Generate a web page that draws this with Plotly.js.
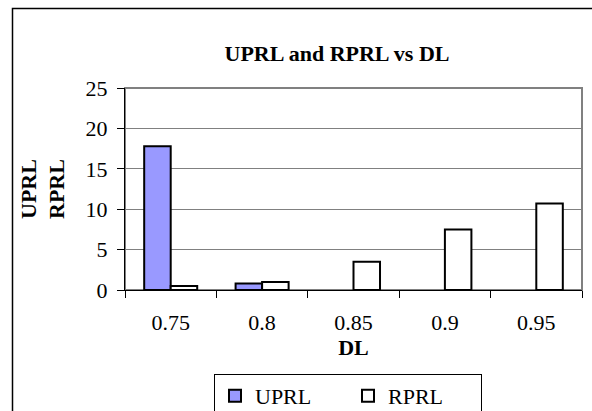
<!DOCTYPE html>
<html>
<head>
<meta charset="utf-8">
<script src="https://cdn.plot.ly/plotly-3.0.1.min.js"></script>
<style>html,body{margin:0;padding:0;background:#fff;overflow:hidden;width:592px;height:411px;}#chart{width:592px;height:440px;}</style>
</head>
<body>
<div id="chart"></div>
<script>
const categories = ["0.75", "0.8", "0.85", "0.9", "0.95"];
const uprlValues = [17.8, 0.8, null, null, null];
const rprlValues = [0.5, 1.0, 3.5, 7.5, 10.7];
const yTickValues = [0, 5, 10, 15, 20, 25];
const seriesNames = ["UPRL", "RPRL"];

const W = 592, H = 440;
const L = 125, R = 582, T = 88, B = 290;
const pw = R - L, ph = B - T;
const px = v => (v - L) / pw;
const py = v => (B - v) / ph;
const FONT = "Liberation Serif";
const FS = 22;

const traces = [
  {type: "bar", name: seriesNames[0], x: categories, y: uprlValues,
   marker: {color: "#9999FF", line: {color: "#000000", width: 2}}},
  {type: "bar", name: seriesNames[1], x: categories, y: rprlValues,
   marker: {color: "#FFFFFF", line: {color: "#000000", width: 2}}}
];

const layout = {
  width: W, height: H,
  margin: {l: L, r: W - R, t: T, b: H - B, pad: 0},
  paper_bgcolor: "#ffffff", plot_bgcolor: "#ffffff",
  font: {family: FONT, size: FS, color: "#000000"},
  barmode: "group", bargap: 0.42, bargroupgap: 0,
  showlegend: true,
  title: {text: "<b>UPRL and RPRL vs DL</b>", font: {family: FONT, size: 22, color: "#000"},
          xref: "container", yref: "container", x: 337 / W, y: 1 - 53 / H,
          xanchor: "center", yanchor: "middle"},
  xaxis: {type: "category", tickson: "boundaries", ticks: "outside", ticklen: 7,
          tickcolor: "#000", showline: true, linecolor: "#000", linewidth: 1,
          showgrid: false, zeroline: false, ticklabelstandoff: 13,
          tickfont: {family: FONT, size: FS},
          title: {text: "<b>DL</b>", font: {family: FONT, size: FS}, standoff: 0}},
  yaxis: {range: [0, 25], tickvals: yTickValues, ticks: "outside", ticklen: 7,
          tickcolor: "#000", showline: true, linecolor: "#000", linewidth: 1,
          showgrid: true, gridcolor: "#808080", gridwidth: 1, zeroline: false,
          ticklabelstandoff: 5,
          tickfont: {family: FONT, size: FS},
          title: {text: "<b>UPRL<br>RPRL</b>", font: {family: FONT, size: FS}, standoff: 14}},
  legend: {orientation: "h", xref: "paper", yref: "paper",
           x: px(214), xanchor: "left", y: py(374), yanchor: "top",
           bordercolor: "#000", borderwidth: 1, bgcolor: "#fff",
           entrywidth: 88, entrywidthmode: "pixels",
           font: {family: FONT, size: FS}, itemwidth: 30, traceorder: "normal"},
  shapes: [
    {type: "rect", xref: "paper", yref: "paper", x0: 0, x1: 1, y0: 0, y1: 1,
     line: {color: "#808080", width: 2}, layer: "below"},
    {type: "rect", xref: "paper", yref: "paper", x0: px(12.5), x1: px(640), y0: py(8.5), y1: py(436),
     line: {color: "#000", width: 1.5}}
  ]
};

Plotly.newPlot("chart", traces, layout, {displayModeBar: false, staticPlot: true});
</script>
</body>
</html>
